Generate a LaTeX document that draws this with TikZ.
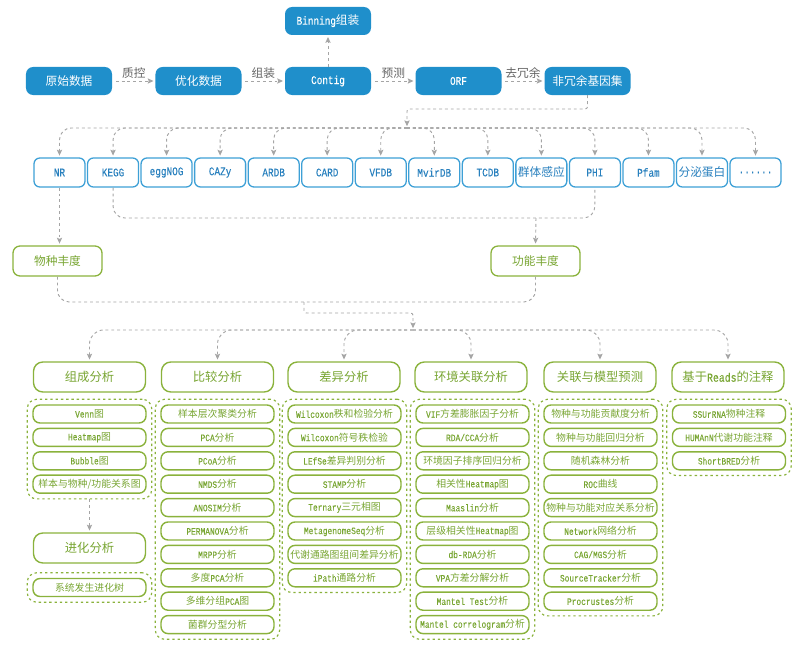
\documentclass[tikz,border=0pt]{standalone}
\usepackage{fontspec}
\setmainfont{Noto Sans CJK SC}
\newfontfamily\latfont[Scale=1.0,FakeStretch=0.8,FakeBold=0.15]{Liberation Mono}
\newcommand\lat[1]{{\latfont #1}}
\usepackage{tikz}
\usetikzlibrary{arrows.meta,fit}

\definecolor{boxblue}{RGB}{31,143,203}
\definecolor{dbblue}{RGB}{62,160,214}
\definecolor{dbtext}{RGB}{40,128,190}
\definecolor{leaf}{RGB}{138,178,60}
\definecolor{leaftext}{RGB}{120,165,50}
\definecolor{linkgray}{RGB}{165,165,165}
\definecolor{labelgray}{RGB}{100,100,100}

\begin{document}
\begin{tikzpicture}[x=0.03cm,y=-0.03cm,
    datanode/.style={fill=boxblue,text=white,rounded corners=6pt,minimum width=2.58cm,minimum height=0.84cm,font=\fontsize{10}{12}\selectfont},
    dbnode/.style={draw=dbblue,line width=1.1pt,fill=white,text=dbtext,rounded corners=5pt,minimum width=1.53cm,minimum height=0.87cm,inner sep=0pt,font=\fontsize{10}{12}\selectfont},
    abund/.style={draw=leaf,line width=1.1pt,text=leaftext,rounded corners=6pt,minimum width=2.67cm,minimum height=0.9cm,font=\fontsize{10}{12}\selectfont},
    catnode/.style={draw=leaf,line width=1.2pt,text=leaftext,rounded corners=8pt,minimum width=3.36cm,minimum height=0.9cm,font=\fontsize{10.5}{12}\selectfont},
    itemnode/.style={draw=leaf,line width=1.2pt,text=leaftext,rounded corners=6pt,minimum width=3.39cm,minimum height=0.54cm,inner xsep=1pt,inner ysep=0pt,font=\fontsize{8.4}{10}\selectfont},
    groupbox/.style={draw=leaf,line width=1pt,dash pattern=on 2pt off 2.5pt,rounded corners=8pt,inner sep=0.15cm},
    link/.style={draw=linkgray,line width=0.8pt,dash pattern=on 2.5pt off 2.5pt},
    tolink/.style={link,-{Stealth[length=5pt,width=4.5pt,inset=1pt]},shorten >=1.5pt},
    lbl/.style={text=labelgray,inner sep=1pt,font=\fontsize{10}{12}\selectfont}]
  \useasboundingbox (0,0) rectangle (801,647);

  % sequence processing
  \node[datanode] (raw) at (69,81) {原始数据};
  \node[datanode] (clean) at (198.5,81) {优化数据};
  \node[datanode] (contig) at (328,81) {\lat{Contig}};
  \node[datanode] (binning) at (328,21) {\lat{Binning}组装};
  \node[datanode] (orf) at (458.5,81) {\lat{ORF}};
  \node[datanode] (geneset) at (587.5,81) {非冗余基因集};

  \draw[tolink,shorten <=3pt] (raw) -- node[lbl,above=1pt]{质控} (clean);
  \draw[tolink,shorten <=3pt] (clean) -- node[lbl,above=1pt]{组装} (contig);
  \draw[tolink,shorten <=3pt] (contig) -- node[lbl,above=1pt]{预测} (orf);
  \draw[tolink,shorten <=3pt] (orf) -- node[lbl,above=1pt]{去冗余} (geneset);
  \draw[tolink] (contig) -- (binning);

  % databases
  \foreach \name/\txt [count=\i from 0] in {nr/\lat{NR},kegg/\lat{KEGG},eggnog/\lat{eggNOG},cazy/\lat{CAZy},ardb/\lat{ARDB},card/\lat{CARD},vfdb/\lat{VFDB},mvirdb/\lat{MvirDB},tcdb/\lat{TCDB},qs/群体感应,phi/\lat{PHI},pfam/\lat{Pfam},secr/分泌蛋白}
    \node[dbnode] (\name) at ({59.5+53.54*\i},172.5) {\txt};
  \node[dbnode] (more) at (755.5,172.5) {\lat{......}};

  \coordinate (dbturn) at (407,109);
  \coordinate (dbhub) at (407,128);
  \draw[tolink,rounded corners=2pt] (geneset.south) |- (dbturn) -- (dbhub);
  \foreach \name in {nr,kegg,eggnog,cazy,ardb,card,vfdb,mvirdb,tcdb,qs,phi,pfam,secr,more}
    \draw[tolink,rounded corners=10pt] (dbhub) -| (\name.north);

  % abundance
  \node[abund] (species) at (57.5,261) {物种丰度};
  \node[abund] (func) at (535.5,261) {功能丰度};
  \draw[tolink] (nr.south) -- (nr.south |- species.north);
  \coordinate (fnhub) at (536,218);
  \draw[link,rounded corners=10pt] (kegg.south) |- (fnhub) -| (phi.south);
  \draw[tolink] (fnhub) -- (func.north);

  \coordinate (abhub) at (304,302);
  \coordinate (catturn) at (413,313);
  \coordinate (cathub) at (413,330);
  \draw[link,rounded corners=10pt] (species.south) |- (abhub) -| (func.south);
  \draw[tolink,rounded corners=2pt] (abhub) |- (catturn) -- (cathub);

  % analyses
  \node[catnode] (comp) at (89.5,377) {组成分析};
  \node[catnode] (cmp) at (217.5,377) {比较分析};
  \node[catnode] (diff) at (344,377) {差异分析};
  \node[catnode] (env) at (471,377) {环境关联分析};
  \node[catnode] (model) at (600,377) {关联与模型预测};
  \node[catnode] (reads) at (728,377) {基于\lat{Reads}的注释};
  \foreach \name in {comp,cmp,diff,env,model,reads}
    \draw[tolink,rounded corners=12pt] (cathub) -| (\name.north);

  \foreach \t [count=\i from 0] in {\lat{Venn}图,\lat{Heatmap}图,\lat{Bubble}图,{样本与物种/功能关系图}}
    \node[itemnode] (comp-\i) at (89.5,{414+23.4*\i}) {\t};
  \node[groupbox,fit=(comp-0)(comp-3)] (comp-grp) {};

  \node[catnode] (evo) at (89.5,548) {进化分析};
  \draw[tolink] (comp-grp.south) -- (evo.north);
  \node[itemnode] (evo-0) at (89.5,587.5) {系统发生进化树};
  \node[groupbox,fit=(evo-0)] (evo-grp) {};

  \foreach \t [count=\i from 0] in {样本层次聚类分析,\lat{PCA}分析,\lat{PCoA}分析,\lat{NMDS}分析,\lat{ANOSIM}分析,\lat{PERMANOVA}分析,\lat{MRPP}分析,多度\lat{PCA}分析,多维分组\lat{PCA}图,菌群分型分析}
    \node[itemnode] (cmp-\i) at (217.5,{414+23.4*\i}) {\t};
  \node[groupbox,fit=(cmp-0)(cmp-9)] (cmp-grp) {};

  \foreach \t [count=\i from 0] in {\lat{Wilcoxon}秩和检验分析,\lat{Wilcoxon}符号秩检验,\lat{LEfSe}差异判别分析,\lat{STAMP}分析,\lat{Ternary}三元相图,\lat{MetagenomeSeq}分析,代谢通路图组间差异分析,\lat{iPath}通路分析}
    \node[itemnode] (diff-\i) at (344.5,{414+23.4*\i}) {\t};
  \node[groupbox,fit=(diff-0)(diff-7)] (diff-grp) {};

  \foreach \t [count=\i from 0] in {\lat{VIF}方差膨胀因子分析,\lat{RDA/CCA}分析,环境因子排序回归分析,相关性\lat{Heatmap}图,\lat{Maaslin}分析,层级相关性\lat{Heatmap}图,\lat{db-RDA}分析,\lat{VPA}方差分解分析,\lat{Mantel Test}分析,\lat{Mantel correlogram}分析}
    \node[itemnode] (env-\i) at (472.5,{414+23.4*\i}) {\t};
  \node[groupbox,fit=(env-0)(env-9)] (env-grp) {};

  \foreach \t [count=\i from 0] in {物种与功能贡献度分析,物种与功能回归分析,随机森林分析,\lat{ROC}曲线,物种与功能对应关系分析,\lat{Network}网络分析,\lat{CAG/MGS}分析,\lat{SourceTracker}分析,\lat{Procrustes}分析}
    \node[itemnode] (model-\i) at (600.5,{414+23.4*\i}) {\t};
  \node[groupbox,fit=(model-0)(model-8)] (model-grp) {};

  \foreach \t [count=\i from 0] in {\lat{SSUrRNA}物种注释,\lat{HUMAnN}代谢功能注释,\lat{ShortBRED}分析}
    \node[itemnode] (reads-\i) at (729,{414+23.4*\i}) {\t};
  \node[groupbox,fit=(reads-0)(reads-2)] (reads-grp) {};
\end{tikzpicture}
\end{document}
